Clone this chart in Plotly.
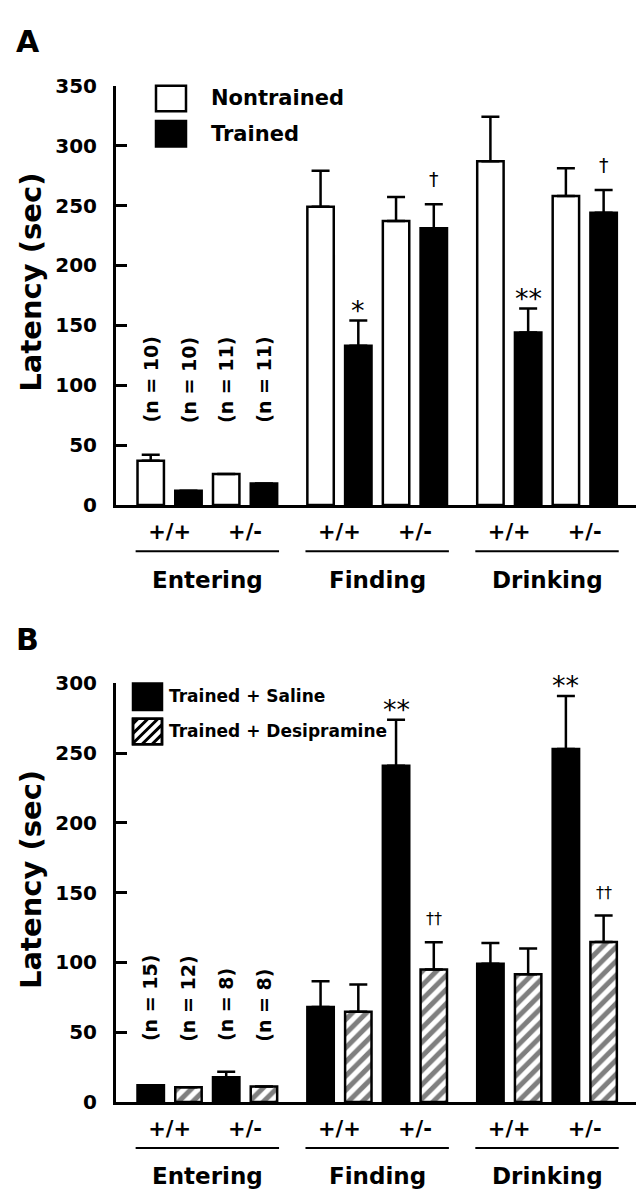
import plotly.graph_objects as go

# ── data ─────────────────────────────────────────────────────────────────────
GROUPS = ["Entering", "Finding", "Drinking"]
GENOTYPES = ["+/+", "+/-"]

# order: Entering +/+, Entering +/-, Finding +/+, Finding +/-, Drinking +/+, Drinking +/-
A_NONTRAINED = [37, 26, 249, 237, 287, 258]
A_NONTRAINED_ERR = [5, 0, 30, 20, 37, 23]
A_TRAINED = [12, 18, 133, 231, 144, 244]
A_TRAINED_ERR = [0, 0, 21, 20, 20, 19]
A_N_LABELS = ["(n = 10)", "(n = 10)", "(n = 11)", "(n = 11)"]
A_SIG_TRAINED = ["", "", "*", "†", "**", "†"]

B_SALINE = [12, 17.6, 68, 241, 99, 253]
B_SALINE_ERR = [0, 4, 18.5, 33, 15, 38]
B_DESI = [10.5, 11, 64.6, 95, 91.5, 114.6]
B_DESI_ERR = [0, 0, 19.5, 19.5, 18.5, 19]
B_N_LABELS = ["(n = 15)", "(n = 12)", "(n = 8)", "(n = 8)"]
B_SIG_SALINE = ["", "", "", "**", "", "**"]
B_SIG_DESI = ["", "", "", "††", "", "††"]

A_TICKS = [0, 50, 100, 150, 200, 250, 300, 350]
B_TICKS = [0, 50, 100, 150, 200, 250, 300]

# ── layout helpers ───────────────────────────────────────────────────────────
W, H = 644, 1200
FONT = "DejaVu Sans"
GROUP_STEP, GENO_STEP = 4.5, 2
pos = [g * GROUP_STEP + k * GENO_STEP for g in range(len(GROUPS)) for k in range(len(GENOTYPES))]


def px_x(p):
    return p / W


def px_y(p):
    return 1 - p / H


# pixel geometry of the two panels (top of y range, x axis baseline)
PANELS = {
    "A": dict(top=67, base=495, xa="x", ya="y"),
    "B": dict(top=677, base=1104, xa="x2", ya="y2"),
}
X_LEFT, X_RIGHT = 108, 638

fig = go.Figure()


def err(arr):
    return dict(type="data", array=arr, arrayminus=[0] * len(arr), symmetric=False,
                color="black", thickness=2.5, width=9)


# Panel A
fig.add_trace(go.Bar(x=pos, y=A_NONTRAINED, error_y=err(A_NONTRAINED_ERR), name="Nontrained",
                     marker=dict(color="white", line=dict(color="black", width=2.5)),
                     xaxis="x", yaxis="y"))
fig.add_trace(go.Bar(x=pos, y=A_TRAINED, error_y=err(A_TRAINED_ERR), name="Trained",
                     marker=dict(color="black", line=dict(color="black", width=2.5)),
                     xaxis="x", yaxis="y"))
# Panel B
fig.add_trace(go.Bar(x=pos, y=B_SALINE, error_y=err(B_SALINE_ERR), name="Trained + Saline",
                     marker=dict(color="black", line=dict(color="black", width=2.5)),
                     xaxis="x2", yaxis="y2"))
fig.add_trace(go.Bar(x=pos, y=B_DESI, error_y=err(B_DESI_ERR), name="Trained + Desipramine",
                     marker=dict(color="white", line=dict(color="black", width=2.5),
                                 pattern=dict(shape="/", fgcolor="black", bgcolor="white",
                                              size=10, solidity=0.5)),
                     xaxis="x2", yaxis="y2"))

xr = [pos[0] - 1.42, pos[0] + (X_RIGHT - 161.5) / 37.75]
xdom = [px_x(X_LEFT), px_x(X_RIGHT)]

common_x = dict(domain=xdom, range=xr, showline=True, linewidth=3, linecolor="black",
                ticks="", showgrid=False, zeroline=False,
                tickvals=pos, ticktext=GENOTYPES * len(GROUPS),
                tickfont=dict(family=FONT, size=21, color="black", weight="bold"),
                ticklabelstandoff=6)
common_y = dict(showline=True, linewidth=3, linecolor="black", ticks="inside", ticklen=11,
                tickwidth=2.5, tickcolor="black", showgrid=False, zeroline=False,
                tickfont=dict(family=FONT, size=20, color="black", weight="bold"),
                ticklabelstandoff=12)

fig.update_layout(
    width=W, height=H,
    margin=dict(l=0, r=0, t=0, b=0),
    plot_bgcolor="white", paper_bgcolor="white",
    barmode="group", bargap=0, bargroupgap=0.3,
    showlegend=False,
    xaxis=dict(**common_x, anchor="y"),
    yaxis=dict(**common_y, domain=[px_y(495), px_y(67)], range=[0, 350],
               tickvals=A_TICKS, anchor="x"),
    xaxis2=dict(**common_x, anchor="y2"),
    yaxis2=dict(**common_y, domain=[px_y(1104), px_y(677)], range=[0, 300],
                tickvals=B_TICKS, anchor="x2"),
)

bold = lambda s: dict(family=FONT, size=s, color="black", weight="bold")
annotations = []
shapes = []

for key, p in PANELS.items():
    # panel letter
    annotations.append(dict(text=key, x=px_x(6), y=px_y(p["top"] - 45), xref="paper", yref="paper",
                            xanchor="left", yanchor="middle", showarrow=False, font=bold(30)))
    # y title
    annotations.append(dict(text="Latency (sec)", x=px_x(23), y=px_y((p["top"] + p["base"]) / 2 - 13),
                            xref="paper", yref="paper", textangle=-90, showarrow=False,
                            xanchor="center", yanchor="middle", font=bold(29)))
    for g, name in enumerate(GROUPS):
        x0 = g * GROUP_STEP
        annotations.append(dict(text=name, x=x0 + GENO_STEP / 2, y=px_y(p["base"] + 76),
                                xref=p["xa"], yref="paper", showarrow=False,
                                xanchor="center", yanchor="middle", font=bold(23)))
        shapes.append(dict(type="line", xref=p["xa"], yref="paper",
                           x0=x0 - 0.9, x1=x0 + GENO_STEP + 0.9,
                           y0=px_y(p["base"] + 47), y1=px_y(p["base"] + 47),
                           line=dict(color="black", width=2)))

# n labels above the Entering bars
for labels, xa, ya, ybot in [(A_N_LABELS, "x", "y", 67), (B_N_LABELS, "x2", "y2", 42)]:
    xs = [pos[0] - 0.5, pos[0] + 0.5, pos[1] - 0.5, pos[1] + 0.5]
    for xv, t in zip(xs, labels):
        annotations.append(dict(text=t, x=xv, y=ybot, xref=xa, yref=ya, textangle=-90,
                                showarrow=False, xanchor="center", yanchor="bottom", font=bold(19)))


# significance marks
def sig_marks(marks, vals, errs, dx, xa, ya):
    for xv, m, v, e in zip(pos, marks, vals, errs):
        if not m:
            continue
        if "*" in m:
            f = dict(family=FONT, size=27, color="black")
            shift = -7
        else:
            f = dict(family="DejaVu Sans", size=19 if len(m) == 1 else 16, color="black")
            shift = 12
        annotations.append(dict(text=m, x=xv + dx, y=v + e, xref=xa, yref=ya, showarrow=False,
                                xanchor="center", yanchor="bottom", yshift=shift, font=f))


sig_marks(A_SIG_TRAINED, A_TRAINED, A_TRAINED_ERR, 0.5, "x", "y")
sig_marks(B_SIG_SALINE, B_SALINE, B_SALINE_ERR, -0.5, "x2", "y2")
sig_marks(B_SIG_DESI, B_DESI, B_DESI_ERR, 0.5, "x2", "y2")


# legends (drawn by hand to get the large swatches)
def box(x0, y0, x1, y1, fill):
    return dict(type="rect", xref="paper", yref="paper", x0=px_x(x0), x1=px_x(x1),
                y0=px_y(y1), y1=px_y(y0), fillcolor=fill, line=dict(color="black", width=2.5))


shapes.append(box(148, 67, 178, 93, "white"))
shapes.append(box(148, 103, 178, 129, "black"))
annotations.append(dict(text="Nontrained", x=px_x(201), y=px_y(80), xref="paper", yref="paper",
                        xanchor="left", yanchor="middle", showarrow=False, font=bold(21)))
annotations.append(dict(text="Trained", x=px_x(201), y=px_y(116), xref="paper", yref="paper",
                        xanchor="left", yanchor="middle", showarrow=False, font=bold(21)))

shapes.append(box(125, 677, 154, 704, "black"))
shapes.append(box(125, 713, 154, 739, "white"))
# hatch lines inside the second legend box
hx0, hy0, hx1, hy1 = 125, 713, 154, 739
path = ""
c = hx0 + hy0 + 5
while c < hx1 + hy1:
    xa_ = max(hx0, c - hy1)
    xb_ = min(hx1, c - hy0)
    if xb_ > xa_:
        path += f"M{px_x(xa_)},{px_y(c - xa_)} L{px_x(xb_)},{px_y(c - xb_)} "
    c += 10
shapes.append(dict(type="path", xref="paper", yref="paper", path=path,
                   line=dict(color="black", width=3)))
shapes.append(dict(type="rect", xref="paper", yref="paper", x0=px_x(hx0), x1=px_x(hx1),
                   y0=px_y(hy1), y1=px_y(hy0), line=dict(color="black", width=2.5)))
annotations.append(dict(text="Trained + Saline", x=px_x(159), y=px_y(690), xref="paper", yref="paper",
                        xanchor="left", yanchor="middle", showarrow=False, font=bold(17)))
annotations.append(dict(text="Trained + Desipramine", x=px_x(159), y=px_y(726), xref="paper", yref="paper",
                        xanchor="left", yanchor="middle", showarrow=False, font=bold(17)))

fig.update_layout(annotations=annotations, shapes=shapes)

fig.write_html("out.html")
